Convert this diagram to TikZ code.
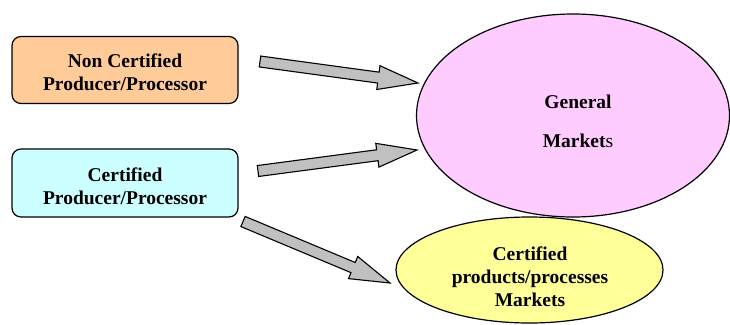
\documentclass[tikz,border=0pt]{standalone}
\usepackage{fontspec}
\setmainfont{Liberation Serif}
\newfontfamily\tms{Liberation Serif}
\usetikzlibrary{calc,shapes.geometric}
\definecolor{peach}{HTML}{FFCC99}
\definecolor{lcyan}{HTML}{CCFFFF}
\definecolor{lpink}{HTML}{FFCCFF}
\definecolor{lyellow}{HTML}{FFFF99}
\definecolor{agray}{HTML}{C0C0C0}
\tikzset{
  boxnode/.style={draw, line width=1.2pt, rounded corners=9pt, minimum width=226pt, minimum height=67pt, inner sep=0pt},
  ellnode/.style={draw, line width=1.2pt, ellipse, inner sep=0pt},
  lbl/.style={align=center, font=\tms\fontsize{19.5}{23}\selectfont\bfseries, inner sep=0pt},
  blockarrow/.style={draw, line width=1.1pt, fill=agray, line join=miter}
}
\newcommand{\blockarr}[2]{%
  \coordinate (hb) at ($(#2)!40pt!(#1)$);
  \draw[blockarrow] ($(#1)!5.5pt!90:(#2)$) -- ($(hb)!5.5pt!-90:(#1)$) -- ($(hb)!12pt!-90:(#1)$) -- (#2)
     -- ($(hb)!12pt!90:(#1)$) -- ($(hb)!5.5pt!90:(#1)$) -- ($(#1)!5.5pt!-90:(#2)$) -- cycle;
}
\begin{document}
\begin{tikzpicture}[x=1pt,y=-1pt]
\useasboundingbox (0,0) rectangle (730,324);
% boxes
\node[boxnode, fill=peach] (nc) at (125,70) {};
\node[lbl] (nct) at (125,72) {Non Certified\\Producer/Processor};
\node[boxnode, fill=lcyan, minimum height=68pt] (c) at (125,183) {};
\node[lbl] (ct) at (125,186) {Certified\\Producer/Processor};
% ellipses
\node[ellnode, fill=lpink, minimum width=313pt, minimum height=203pt] (gm) at (573,115.5) {};
\node[lbl, font=\tms\fontsize{19.5}{39}\selectfont\bfseries] (gmt) at (578,121) {General\\Market{\mdseries s}};
\node[ellnode, fill=lyellow, minimum width=267pt, minimum height=106pt] (cm) at (529.5,270) {};
\node[lbl] (cmt) at (530,277) {Certified\\products/processes\\Markets};
% arrows
\coordinate (a1s) at (260,61.5);
\coordinate (a1e) at (418,83);
\coordinate (a2s) at (258,171);
\coordinate (a2e) at (417,150);
\coordinate (a3s) at (243,221.5);
\coordinate (a3e) at (390,283);
\blockarr{a1s}{a1e}
\blockarr{a2s}{a2e}
\blockarr{a3s}{a3e}
\end{tikzpicture}
\end{document}
